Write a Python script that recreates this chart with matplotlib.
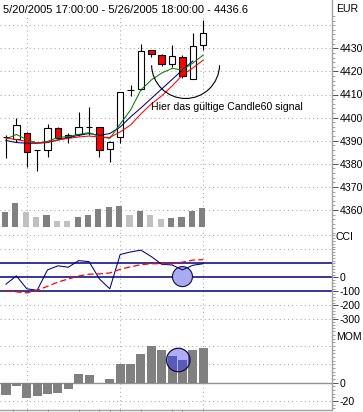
import numpy as np
import matplotlib
matplotlib.use('Agg')
import matplotlib.pyplot as plt
from matplotlib.patches import Rectangle, Arc, Ellipse
from matplotlib.lines import Line2D

plt.rcParams['font.family'] = ['Liberation Sans', 'DejaVu Sans']
plt.rcParams['axes.unicode_minus'] = False

# ---------------- data ----------------
title = "5/20/2005 17:00:00 - 5/26/2005 18:00:00 - 4436.6"
currency = "EUR"
annotation = "Hier das gültige Candle60 signal"

opens  = [4391.5, 4390.6, 4393.2, 4385.8, 4386.0, 4395.4, 4391.4, 4392.8, 4395.8, 4395.8,
          4386.3, 4391.5, 4411.9, 4412.3, 4429.3, 4427.0, 4423.2, 4426.1, 4416.9, 4431.4]
highs  = [4392.3, 4400.0, 4393.8, 4385.9, 4397.2, 4395.9, 4393.5, 4402.6, 4404.7, 4395.9,
          4389.9, 4411.1, 4414.3, 4431.9, 4429.4, 4427.4, 4431.4, 4427.1, 4436.5, 4442.3]
lows   = [4382.6, 4389.4, 4378.7, 4377.0, 4383.1, 4390.7, 4389.1, 4392.0, 4392.5, 4382.8,
          4380.9, 4389.1, 4409.4, 4412.0, 4426.1, 4422.3, 4421.8, 4417.1, 4416.7, 4429.3]
closes = [4391.5, 4396.7, 4384.9, 4385.8, 4395.4, 4391.0, 4392.5, 4395.8, 4395.8, 4385.8,
          4389.4, 4410.9, 4411.9, 4429.0, 4427.4, 4423.3, 4426.8, 4417.8, 4431.2, 4436.6]

ma_blue  = [4390.1, 4389.2, 4388.9, 4388.9, 4389.2, 4390.3, 4391.4, 4392.3, 4393.1, 4392.3,
            4393.1, 4395.9, 4400.3, 4404.2, 4408.3, 4412.4, 4416.5, 4420.6, 4424.5, np.nan]
ma_green = [4390.7, 4392.7, 4390.5, 4389.0, 4389.7, 4391.4, 4391.8, 4392.7, 4393.5, 4391.8,
            4391.0, 4397.2, 4403.3, 4412.0, 4416.3, 4419.3, 4421.3, 4420.6, 4423.6, 4427.1]
ma_red   = [4391.2, 4390.5, 4389.7, 4389.0, 4389.4, 4390.3, 4391.0, 4391.6, 4392.0, 4391.6,
            4391.4, 4393.8, 4396.8, 4401.6, 4405.9, 4409.4, 4413.7, 4418.4, 4421.5, 4424.9]

volume = [15, 24, 15, 10, 12, 6, 6, 10, 12, 18, 20, 21, 12, 16, 12, 8, 9, 10, 16, 19]
volume_kind = ['d', 'd', 'l', 'l', 'd', 'l', 'l', 'd', 'd', 'd',
               'd', 'd', 'l', 'd', 'l', 'l', 'd', 'd', 'd', 'd']

cci        = [-49, 10, -82, -93, 53, 82, 72, 119, 112, -12,
              -82, 163, 181, 194, 148, 93, 88, 53, 86, 97]
cci_signal = [-98, -104, -111, -93, -64, -34, -12, 9, 22, 24,
              31, 57, 75, 90, 97, 97, 97, 108, 123, 126]

momentum = [-13.5, -3.3, -16.5, -14, -12.5, -11, -6.5, 9.5, 8.5, 0,
            4, 20, 20, 31, 40, 36, 29, 25, 36, 37.5]

price_ticks = [4360, 4370, 4380, 4390, 4400, 4410, 4420, 4430]
price_grid = [4350, 4360, 4370, 4380, 4390, 4400, 4410, 4420, 4430, 4440]
cci_levels = [100, 0, -100]
cci_ticks = [0, -100, -200, -300]
cci_grid = [300, 200, -200, -300]
mom_ticks = [0, -20]
mom_grid = [40, 20, -20]
day_breaks = [2, 11, 19]
hour_ticks = [0.65, 2, 4, 7, 9, 10, 11, 13, 16, 17, 19]

signal_idx = 17
arc_center = (signal_idx + 0.3, 4423.0)
annot_pos = (14.0, 4404.8)
cci_marker = (signal_idx, 5)
mom_marker = (signal_idx - 0.4, 24.7)

# ---------------- layout (pixels) ----------------
W, H = 363, 412
PX_IDX = 10.38          # px per candle
X0 = 6.0                # px of first candle
RIGHT = 332
fig = plt.figure(figsize=(W / 100, H / 100), dpi=100)


def px_axes(top, bottom, left=0, right=RIGHT):
    return fig.add_axes([left / W, 1 - bottom / H, (right - left) / W, (bottom - top) / H])


xlim = (-X0 / PX_IDX, (RIGHT - X0) / PX_IDX)
idx = np.arange(len(opens))

GRID = dict(color='#a8a8a8', lw=0.75, linestyle=(0, (1, 3)), zorder=0)
FS = 7.6


def style_axis(ax, ticks, minor_step, ylim):
    ax.set_xlim(*xlim)
    ax.set_ylim(*ylim)
    for s in ax.spines.values():
        s.set_visible(False)
    ax.patch.set_alpha(0)
    ax.yaxis.tick_right()
    ax.set_yticks(ticks)
    ax.set_yticklabels([str(t) for t in ticks])
    ax.set_yticks(np.arange(np.ceil(ylim[0] / minor_step) * minor_step, ylim[1], minor_step), minor=True)
    ax.tick_params(axis='y', which='major', direction='out', length=4, width=0.7,
                   color='#505050', pad=1.5, labelsize=FS)
    ax.tick_params(axis='y', which='minor', direction='out', length=2, width=0.6, color='#909090')
    ax.set_xticks([])
    for d in day_breaks:
        ax.axvline(d, **GRID)


# price panel: 4360 at y=210px, 2.31 px per point
def price_at(ypx):
    return 4360 + (210 - ypx) / 2.31

ax_p = px_axes(14, 231)
style_axis(ax_p, price_ticks, 2, (price_at(231), price_at(14)))
for g in price_grid:
    ax_p.axhline(g, **GRID)

body_w = 0.62
for i in idx:
    o, h, l, c = opens[i], highs[i], lows[i], closes[i]
    ax_p.plot([i, i], [l, h], color='black', lw=0.8, zorder=2, solid_capstyle='butt')
    fc = 'white' if c >= o else '#ff0000'
    ax_p.add_patch(Rectangle((i - body_w / 2, min(o, c)), body_w, abs(c - o),
                             facecolor=fc, edgecolor='black', lw=0.8, zorder=3))

ax_p.plot(idx, ma_blue, color='#000080', lw=0.75, zorder=4)
ax_p.plot(idx, ma_green, color='#008000', lw=0.75, zorder=4)
ax_p.plot(idx, ma_red, color='#ff0000', lw=0.75, zorder=4)

arc_d = 68  # px
ax_p.add_patch(Arc(arc_center, arc_d / PX_IDX, arc_d / 2.31, theta1=186, theta2=354,
                   color='black', lw=0.8, zorder=5))
ax_p.text(annot_pos[0], annot_pos[1], annotation, fontsize=FS, ha='left', va='center', zorder=6)

# volume overlay
ax_v = px_axes(197, 227)
ax_v.set_xlim(*xlim)
ax_v.set_ylim(0, 30)
ax_v.axis('off')
vcol = {'d': '#808080', 'l': '#c0c0c0'}
ax_v.bar(idx - 0.1, volume, width=0.6, color=[vcol[k] for k in volume_kind], zorder=2)

# CCI panel: 0 at 277.3px, 0.14 px per unit
def cci_at(ypx):
    return (277.3 - ypx) / 0.14

ax_c = px_axes(231, 325)
style_axis(ax_c, cci_ticks, 20, (cci_at(325), cci_at(231)))
for g in cci_grid:
    ax_c.axhline(g, **GRID)
for lv in cci_levels:
    ax_c.axhline(lv, color='#000080', lw=1.1, zorder=1)
cd = 20  # px
ax_c.add_patch(Ellipse(cci_marker, cd / PX_IDX, cd / 0.14, facecolor='#a9aaf2',
                       edgecolor='#101040', lw=0.8, zorder=2))
ax_c.plot(idx, cci, color='#000080', lw=0.75, zorder=3)
ax_c.plot(idx, cci_signal, color='#ff0000', lw=0.9, linestyle=(0, (5, 2.5)), zorder=3)

# MOM panel: 0 at 382.7px, 0.9175 px per unit
def mom_at(ypx):
    return (382.7 - ypx) / 0.9175

ax_m = px_axes(325, 409)
style_axis(ax_m, mom_ticks, 4, (mom_at(409), mom_at(325)))
for g in mom_grid:
    ax_m.axhline(g, **GRID)
ax_m.axhline(0, color='#909090', lw=1.0, zorder=1)
ax_m.bar(idx, momentum, width=0.87, color='#808080', zorder=2)
md = 23.5
ell_fill = Ellipse(mom_marker, md / PX_IDX, md / 0.9175, facecolor='#adadfb',
                   edgecolor='none', zorder=3)
ax_m.add_patch(ell_fill)
dark = ax_m.bar(idx, momentum, width=0.87, color='#5a5ab8', zorder=4)
for b in dark:
    b.set_clip_path(ell_fill)
ax_m.add_patch(Ellipse(mom_marker, md / PX_IDX, md / 0.9175, facecolor='none',
                       edgecolor='#101030', lw=0.9, zorder=5))
ax_m.set_xticks(hour_ticks)
ax_m.tick_params(axis='x', direction='out', length=3, width=0.6, color='#909090',
                 labelbottom=False)

# frame lines, labels
fig.add_artist(Line2D([RIGHT / W, RIGHT / W], [1 - 409 / H, 1], transform=fig.transFigure,
                      color='#a0a0a0', lw=1.0))
fig.add_artist(Line2D([0, RIGHT / W], [1 - 409.5 / H, 1 - 409.5 / H], transform=fig.transFigure,
                      color='#a0a0a0', lw=1.0))

fig.text(3 / W, 1 - 12.7 / H, title, fontsize=8.0, ha='left', va='baseline')
fig.text(336 / W, 1 - 12.5 / H, currency, fontsize=FS, ha='left', va='baseline')
fig.text(336 / W, 1 - 240.5 / H, "CCI", fontsize=FS, ha='left', va='baseline')
fig.text(336 / W, 1 - 339.5 / H, "MOM", fontsize=FS, ha='left', va='baseline')

fig.savefig('out.png', dpi=100)
